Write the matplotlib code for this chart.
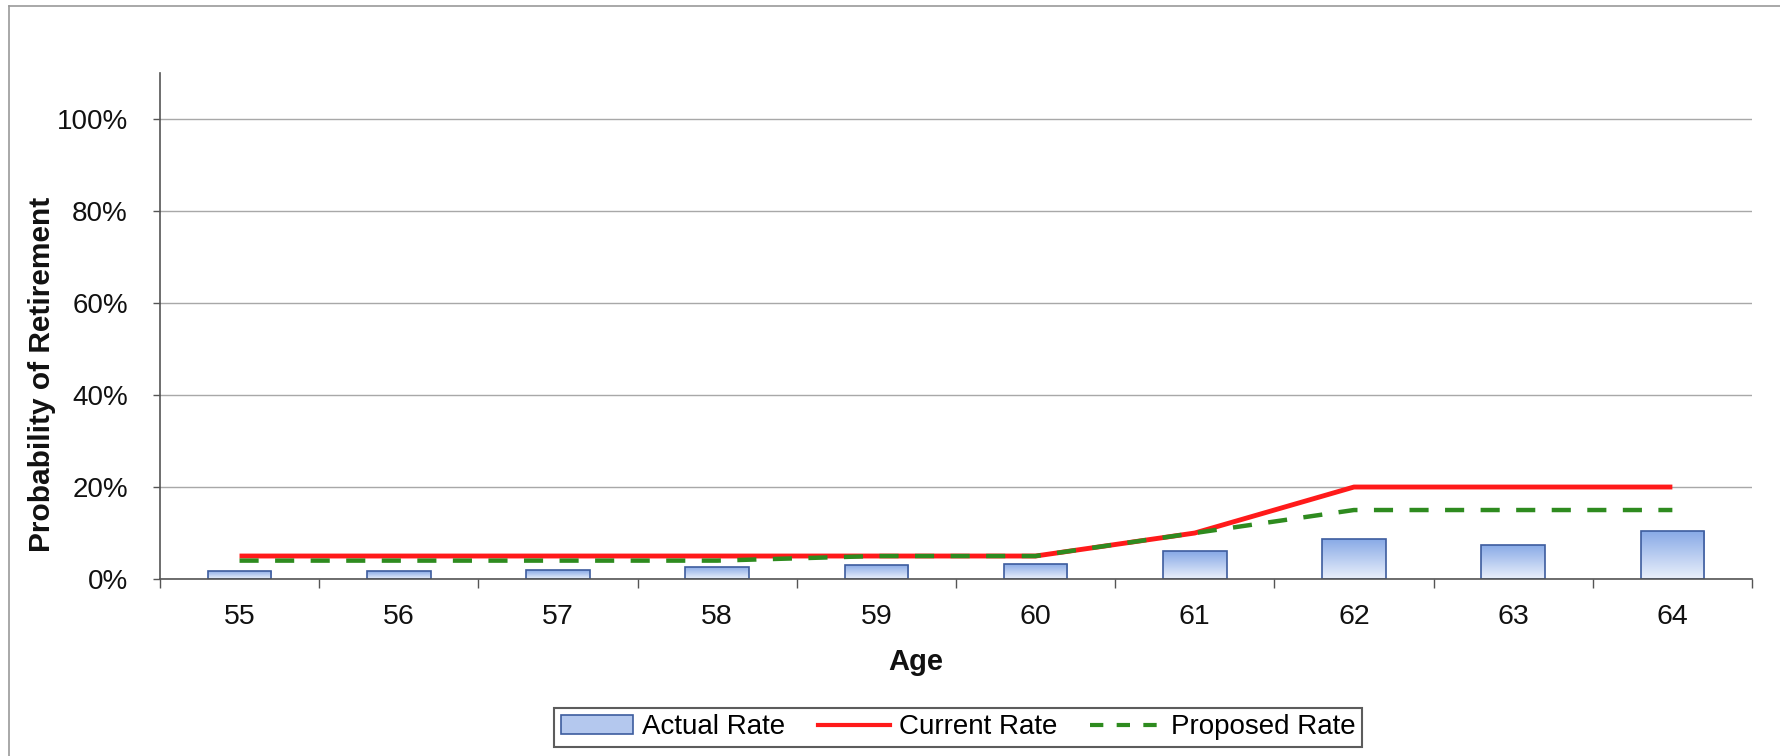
import numpy as np
import matplotlib
matplotlib.use("Agg")
import matplotlib.pyplot as plt
from matplotlib.colors import LinearSegmentedColormap
from matplotlib.patches import Patch
from matplotlib.lines import Line2D

plt.rcParams['font.family'] = ['Liberation Sans', 'DejaVu Sans']

# data
ages = ["55", "56", "57", "58", "59", "60", "61", "62", "63", "64"]
actual_rate = [0.018, 0.017, 0.019, 0.027, 0.031, 0.033, 0.060, 0.088, 0.074, 0.105]
current_rate = [0.05, 0.05, 0.05, 0.05, 0.05, 0.05, 0.10, 0.20, 0.20, 0.20]
proposed_rate = [0.04, 0.04, 0.04, 0.04, 0.05, 0.05, 0.10, 0.15, 0.15, 0.15]
y_ticks = [0, 0.2, 0.4, 0.6, 0.8, 1.0]

fig = plt.figure(figsize=(17.81, 7.56), dpi=100)
ax = fig.add_axes([0.0898, 0.2341, 0.8939, 0.6693])

x = np.arange(len(ages))
bar_w = 0.4

# bars with a vertical gradient fill (darker at top)
grad_cmap = LinearSegmentedColormap.from_list("barfill", ["#eaf0fb", "#86a8e6"])
grad = np.linspace(0, 1, 256).reshape(-1, 1)
bars = ax.bar(x, actual_rate, width=bar_w, facecolor="none", edgecolor="#3d5c9e",
              linewidth=1.2, zorder=4)
for b in bars:
    bx, by = b.get_x(), b.get_y()
    im = ax.imshow(grad, cmap=grad_cmap, origin="lower", aspect="auto",
                   extent=(bx, bx + b.get_width(), by, by + b.get_height()), zorder=3)
    im.set_clip_path(b)

ax.plot(x, current_rate, color="#ff1a1a", linewidth=3.5, zorder=5, solid_capstyle="butt")
ax.plot(x, proposed_rate, color="#2e8b1f", linewidth=3.2, linestyle=(0, (4.3, 3.7)),
        zorder=6, dash_capstyle="butt")

ax.set_xlim(-0.5, len(ages) - 0.5)
ax.set_ylim(0, 1.1)

ax.set_yticks(y_ticks)
ax.set_yticklabels([f"{int(round(v * 100))}%" for v in y_ticks])
ax.set_xticks(x)
ax.set_xticklabels(ages)
ax.set_xticks(np.arange(-0.5, len(ages)), minor=True)

ax.tick_params(axis="x", which="major", length=0, pad=18, labelsize=20.5, colors="#111111")
ax.tick_params(axis="x", which="minor", length=6.5, width=1, color="#555555", direction="out")
ax.tick_params(axis="y", which="major", length=5, width=1, color="#555555", pad=18,
               labelsize=20, labelcolor="#111111")

ax.grid(axis="y", color="#a8a8a8", linewidth=1)
ax.set_axisbelow(True)
for side in ["top", "right"]:
    ax.spines[side].set_visible(False)
for side in ["left", "bottom"]:
    ax.spines[side].set_color("#555555")
    ax.spines[side].set_linewidth(1.2)
    ax.spines[side].set_zorder(7)

ax.set_ylabel("Probability of Retirement", fontsize=21.5, fontweight="bold", color="#111111")
ax.yaxis.set_label_coords(-0.0655, 0.404)
ax.set_xlabel("Age", fontsize=21, fontweight="bold", color="#111111")
ax.xaxis.set_label_coords(0.4746, -0.137)

handles = [
    Patch(facecolor="#b4c8ee", edgecolor="#3d5c9e", linewidth=1.2),
    Line2D([0], [0], color="#ff1a1a", linewidth=3.0),
    Line2D([0], [0], color="#2e8b1f", linewidth=3.0, linestyle=(0, (3.2, 3.2))),
]
leg = fig.legend(handles, ["Actual Rate", "Current Rate", "Proposed Rate"],
                 loc="center", bbox_to_anchor=(0.538, 0.0377), ncol=3, fontsize=20,
                 frameon=True, fancybox=False, handlelength=2.6, handletextpad=0.3,
                 columnspacing=1.2, borderpad=0.25)
leg.get_frame().set_edgecolor("#333333")
leg.get_frame().set_linewidth(1.5)

# outer chart frame (top and left edges visible)
fig.add_artist(Line2D([9 / 1781, 1.0], [1 - 6 / 756, 1 - 6 / 756], color="#9a9a9a", linewidth=1.2))
fig.add_artist(Line2D([9 / 1781, 9 / 1781], [0.0, 1 - 6 / 756], color="#9a9a9a", linewidth=1.2))

fig.savefig("out.png", dpi=100)
